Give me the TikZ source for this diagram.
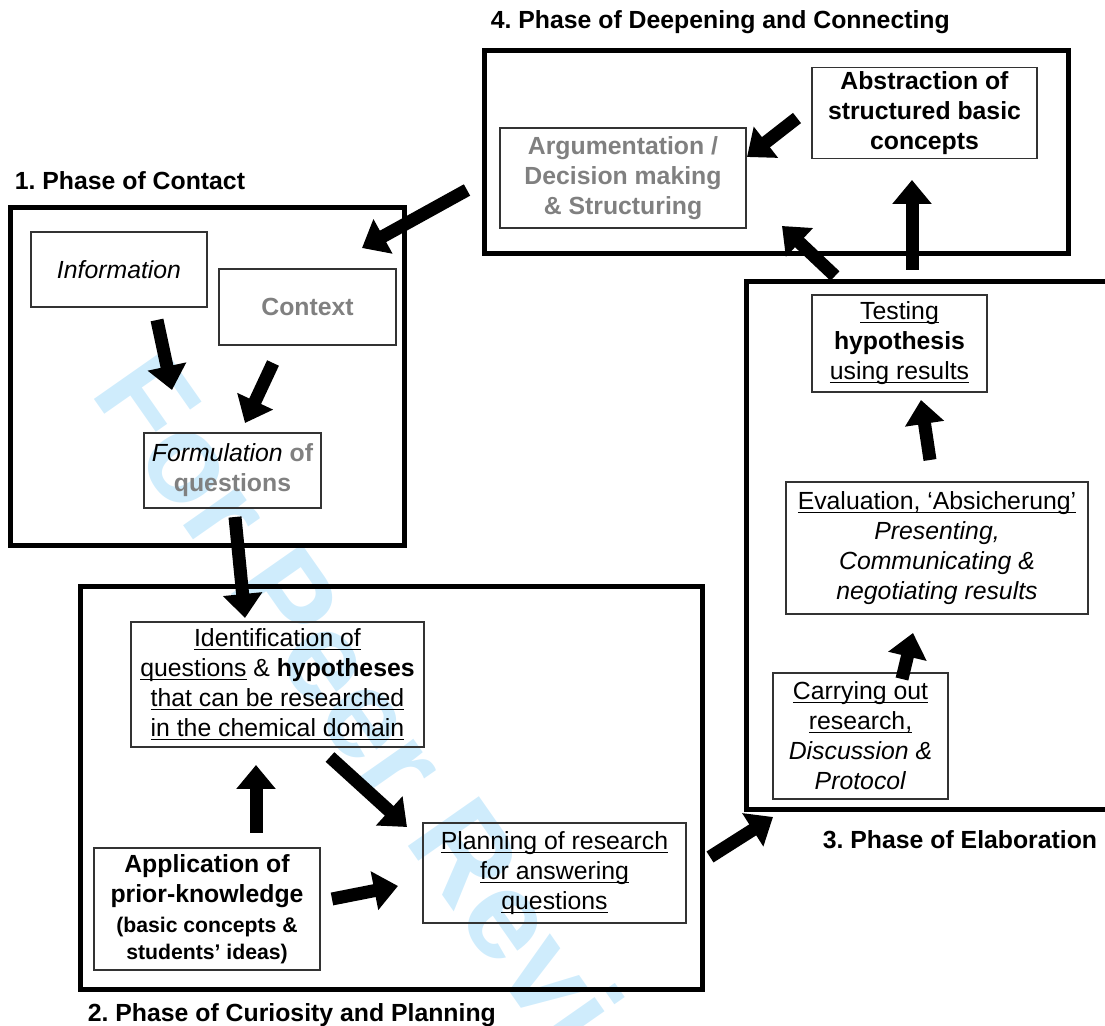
\documentclass[tikz,border=0pt]{standalone}
\usepackage{fontspec}
\setmainfont{Liberation Sans}
\usetikzlibrary{arrows.meta}
\definecolor{greytext}{RGB}{128,128,128}
\definecolor{peerblue}{RGB}{207,236,252}
\newcommand{\undertext}[1]{\underline{\smash{#1}}\vphantom{#1}}
\frenchspacing
\begin{document}
\begin{tikzpicture}
[x=0.5pt,y=-0.5pt,
  boxdecorate/.style={draw=black!80,line width=0.6pt,align=center,inner sep=2pt,%
    font=\fontsize{12.4}{15}\selectfont},
  phasedecorate/.style={draw,line width=2.5pt},
  phaselabel/.style={anchor=west,inner sep=0pt,font=\fontsize{12.4}{15}\selectfont\bfseries},
  arrowdecorate/.style={-{Triangle[width=19pt,length=12pt]},line width=6.5pt},
  watermark/.style={text=peerblue,rotate=-55,font=\fontsize{63}{63}\selectfont\bfseries}]
\useasboundingbox (0,0) rectangle (1105,1026);
%% watermark
\node[watermark] (peer) at (408,768) {For Peer Review};
%% phases
\foreach \nodename/\x/\y/\w/\h in {phase1/207/377/197pt/169pt,
  phase2/391/788.5/311pt/201.5pt, phase3/933/546/187pt/264pt,
  phase4/776/152.5/292pt/101.5pt}
{
  \node (\nodename) at (\x,\y) [phasedecorate,minimum width=\w,minimum height=\h] {};
}
\node[phaselabel] at ([shift={(7,-25)}]phase1.north west) {1. Phase of Contact};
\node[phaselabel] at ([shift={(10,23)}]phase2.south west) {2. Phase of Curiosity and Planning};
\node[phaselabel] at ([shift={(79,27)}]phase3.south west) {3. Phase of Elaboration};
\node[phaselabel] at ([shift={(9,-26)}]phase4.north west) {4. Phase of Deepening and Connecting};
%% steps
\node (info) at (119,269.5) [boxdecorate,minimum width=88pt,minimum height=37.5pt]
  {\textit{Information}};
\node (context) at (307.5,307) [boxdecorate,minimum width=88.5pt,minimum height=38pt,
  text=greytext] {\textbf{Context}};
\node (formulation) at (232.5,470.5) [boxdecorate,minimum width=88.5pt,minimum height=37.5pt]
  {\textit{Formulation} \textcolor{greytext}{\textbf{of}}\\\textcolor{greytext}{\textbf{questions}}};
\node (identify) at (277.5,684.5) [boxdecorate,minimum width=146.5pt,minimum height=62.5pt]
  {\undertext{Identification of}\\\undertext{questions} \& \textbf{hypotheses}\\
   \undertext{that can be researched}\\\undertext{in the chemical domain}};
\node (apply) at (207,909) [boxdecorate,minimum width=113pt,minimum height=61pt]
  {\textbf{Application of}\\\textbf{prior-knowledge}\\
   {\fontsize{10.6}{13.5}\selectfont\textbf{(basic concepts \&}}\\[-1.5pt]
   {\fontsize{10.6}{13.5}\selectfont\textbf{students’ ideas)}}};
\node (planning) at (554.5,873) [boxdecorate,minimum width=131.5pt,minimum height=50pt]
  {\undertext{Planning of research}\\\undertext{for answering}\\\undertext{questions}};
\node (carry) at (860.5,736) [boxdecorate,minimum width=87.5pt,minimum height=63pt]
  {\undertext{Carrying out}\\\undertext{research,}\\\textit{Discussion \&}\\\textit{Protocol}};
\node (evaluate) at (937,548) [boxdecorate,minimum width=151pt,minimum height=66pt]
  {\undertext{Evaluation, ‘Absicherung’}\\\textit{Presenting,}\\\textit{Communicating \&}\\
   \textit{negotiating results}};
\node (testing) at (899.5,343.5) [boxdecorate,minimum width=87.5pt,minimum height=48.5pt]
  {\undertext{Testing}\\\textbf{hypothesis}\\\undertext{using results}};
\node (abstract) at (924.5,113) [boxdecorate,minimum width=112.5pt,minimum height=45pt]
  {\textbf{Abstraction of}\\\textbf{structured basic}\\\textbf{concepts}};
\node (argue) at (623,178) [boxdecorate,minimum width=123pt,minimum height=50pt,
  text=greytext] {\textbf{Argumentation /}\\\textbf{Decision making}\\\textbf{\& Structuring}};
%% arrows
\foreach \startnode/\sx/\sy/\endnode/\ex/\ey in {abstract/-127.5/5/argue/124/-21,
  argue/-156/12/phase1/155/-129, info/38/50.5/formulation/-60.5/-80.5,
  context/-34.5/56/formulation/12.5/-47.5, formulation/2.5/46.5/identify/-32.5/-66.5,
  apply/49/-76/identify/-21.5/80.5, identify/52.5/72.5/planning/-147.5/-46,
  apply/125/-10/planning/-156.5/13, planning/155.5/-16/phase3/-160/271,
  carry/41.5/-57/evaluate/-24/85, evaluate/-7/-88/testing/21.5/56.5,
  phase3/-21/-276/abstract/-12.5/67, phase3/-98/-270/argue/159/48}
{
  \draw[arrowdecorate] ([shift={(\sx,\sy)}]\startnode.center)
    -- ([shift={(\ex,\ey)}]\endnode.center);
}
\end{tikzpicture}
\end{document}
